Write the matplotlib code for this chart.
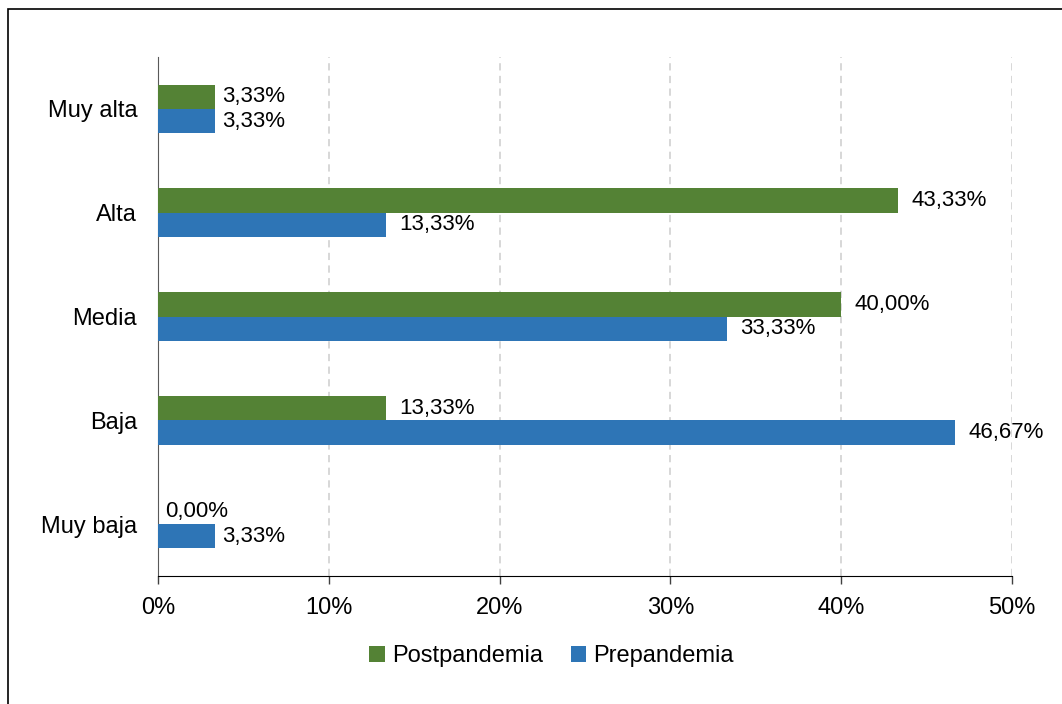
import numpy as np
import matplotlib.pyplot as plt
from matplotlib.patches import Rectangle

plt.rcParams['font.family'] = ['Liberation Sans', 'DejaVu Sans']

categories = ["Muy baja", "Baja", "Media", "Alta", "Muy alta"]
prepandemia = [3.33, 46.67, 33.33, 13.33, 3.33]
postpandemia = [0.00, 13.33, 40.00, 43.33, 3.33]
xticks = [0, 10, 20, 30, 40, 50]

green = "#548235"
blue = "#2E75B6"

fig = plt.figure(figsize=(10.62, 7.04), dpi=100)
# outer chart border (right and bottom edges are cropped in the reference)
fig.patches.append(Rectangle((8 / 1062, -0.1), 1.2, 1.1 - 9 / 704,
                             transform=fig.transFigure, fill=False,
                             edgecolor="black", linewidth=1.2))

ax = fig.add_axes([158 / 1062, 1 - 576 / 704, (1012 - 158) / 1062, (576 - 57) / 704])

y = np.arange(len(categories))
h = 0.235
ax.barh(y + h / 2, postpandemia, height=h, color=green, label="Postpandemia", zorder=3)
ax.barh(y - h / 2, prepandemia, height=h, color=blue, label="Prepandemia", zorder=3)

def fmt(v):
    return f"{v:.2f}".replace(".", ",") + "%"

for yi, v in zip(y, postpandemia):
    off = 5 if v < 5 else 9.5
    ax.annotate(fmt(v), (v, yi + h / 2), xytext=(off, 0), textcoords="offset points",
                ha="left", va="center", fontsize=16)
for yi, v in zip(y, prepandemia):
    off = 5 if v < 5 else 9.5
    ax.annotate(fmt(v), (v, yi - h / 2), xytext=(off, 0), textcoords="offset points",
                ha="left", va="center", fontsize=16)

ax.set_xlim(0, 50)
ax.set_ylim(-0.5, 4.5)
ax.set_xticks(xticks)
ax.set_xticklabels([f"{t}%" for t in xticks], fontsize=17)
ax.set_yticks(y)
ax.set_yticklabels(categories, fontsize=17)
ax.tick_params(axis="y", length=0, pad=15)
ax.tick_params(axis="x", length=6, width=1, color="#404040", pad=9)

ax.grid(axis="x", color="#D4D4D4", linestyle=(0, (4, 3)), linewidth=1.3, zorder=0)
for s in ["top", "right"]:
    ax.spines[s].set_visible(False)
ax.spines["left"].set_color("#595959")
ax.spines["bottom"].set_color("black")

ax.legend(loc="center", bbox_to_anchor=(0.461, -0.155), ncol=2, frameon=False,
          fontsize=17, handlelength=0.65, handleheight=0.65, handletextpad=0.3,
          columnspacing=1.2)

fig.savefig("out.png", dpi=100)
